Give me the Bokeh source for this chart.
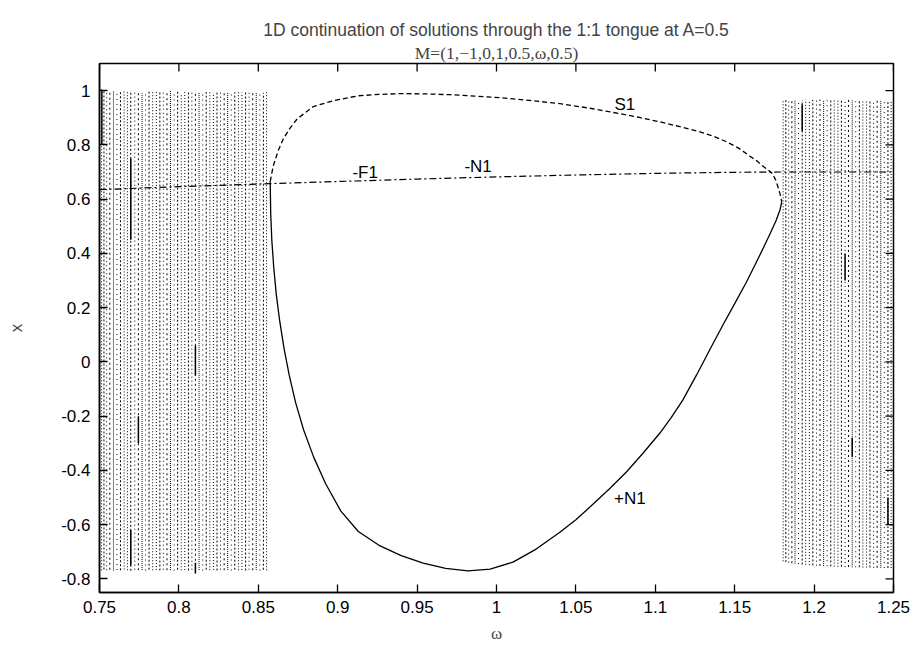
from bokeh.plotting import figure
from bokeh.models import FixedTicker, Title, NumeralTickFormatter, ColumnDataSource
from bokeh.core.properties import value
from bokeh.embed import file_html
from bokeh.resources import INLINE

# ---------------- data ----------------
title_main = "1D continuation of solutions through the 1:1 tongue at A=0.5"
title_sub = "M=(1,\u22121,0,1,0.5,\u03c9,0.5)"
x_label = "\u03c9"
y_label = "x"

x_ticks = [0.75, 0.8, 0.85, 0.9, 0.95, 1.0, 1.05, 1.1, 1.15, 1.2, 1.25]
y_ticks = [-0.8, -0.6, -0.4, -0.2, 0.0, 0.2, 0.4, 0.6, 0.8, 1.0]

# quasi-periodic clouds (columns of iterates) left of the tongue
omega_left = [0.7512, 0.7528, 0.7545, 0.7565, 0.7588, 0.7610, 0.7632, 0.7655, 0.7676, 0.7697,
              0.7722, 0.7745, 0.7768, 0.7790, 0.7812, 0.7835, 0.7858, 0.7880, 0.7902, 0.7925,
              0.7947, 0.7970, 0.7992, 0.8015, 0.8037, 0.8060, 0.8082, 0.8104, 0.8127, 0.8150,
              0.8172, 0.8195, 0.8217, 0.8240, 0.8262, 0.8285, 0.8307, 0.8330, 0.8352, 0.8375,
              0.8397, 0.8420, 0.8442, 0.8465, 0.8487, 0.8510, 0.8532, 0.8552]
left_top = [1.005, 1.003, 1.0, 1.0, 0.998, 1.0, 0.995, 1.0, 0.998, 1.0,
            0.997, 1.0, 0.99, 0.995, 0.998, 1.0, 0.996, 1.0, 0.993, 0.997,
            1.0, 0.995, 0.998, 0.99, 0.997, 0.995, 0.998, 1.0, 0.993, 0.997,
            0.995, 0.998, 0.992, 0.996, 0.995, 0.998, 0.993, 0.996, 0.994, 0.997,
            0.993, 0.995, 0.992, 0.996, 0.993, 0.995, 0.992, 0.994]
left_bottom = [-0.768, -0.765, -0.768, -0.766, -0.769, -0.767, -0.768, -0.765, -0.768, -0.77,
               -0.766, -0.768, -0.767, -0.769, -0.766, -0.768, -0.767, -0.769, -0.766, -0.768,
               -0.767, -0.769, -0.766, -0.768, -0.767, -0.769, -0.766, -0.77, -0.767, -0.769,
               -0.766, -0.768, -0.767, -0.769, -0.766, -0.768, -0.767, -0.769, -0.766, -0.768,
               -0.767, -0.769, -0.766, -0.768, -0.767, -0.769, -0.766, -0.768]

# clouds right of the tongue
omega_right = [1.1805, 1.1822, 1.1840, 1.1860, 1.1880, 1.1902, 1.1925, 1.1947, 1.1970, 1.1992,
               1.2015, 1.2037, 1.2060, 1.2082, 1.2105, 1.2127, 1.2150, 1.2172, 1.2195, 1.2217,
               1.2240, 1.2262, 1.2285, 1.2307, 1.2330, 1.2352, 1.2375, 1.2397, 1.2420, 1.2442,
               1.2465, 1.2485]
right_top = [0.962, 0.965, 0.963, 0.966, 0.964, 0.966, 0.965, 0.967, 0.964, 0.966,
             0.965, 0.967, 0.964, 0.966, 0.965, 0.967, 0.964, 0.966, 0.965, 0.967,
             0.964, 0.966, 0.965, 0.967, 0.964, 0.966, 0.965, 0.967, 0.964, 0.966,
             0.965, 0.963]
right_bottom = [-0.735, -0.738, -0.740, -0.742, -0.744, -0.745, -0.747, -0.748, -0.749, -0.750,
                -0.751, -0.752, -0.752, -0.753, -0.754, -0.754, -0.755, -0.755, -0.756, -0.756,
                -0.757, -0.757, -0.757, -0.758, -0.758, -0.758, -0.759, -0.759, -0.759, -0.76,
                -0.76, -0.76]

# darker, near-solid pieces inside the clouds
dark_omega = [0.7515, 0.7697, 0.7697, 0.8104, 0.8104, 0.7745, 1.2195, 1.2240, 1.2465, 1.1925]
dark_lo = [0.80, 0.45, -0.75, -0.05, -0.78, -0.30, 0.30, -0.35, -0.60, 0.85]
dark_hi = [1.00, 0.75, -0.62, 0.06, -0.74, -0.20, 0.40, -0.28, -0.50, 0.95]

# S1 branch (dashed)
s1_omega = [0.8575, 0.8594, 0.8625, 0.8657, 0.8700, 0.8745, 0.8846, 0.8972, 0.9129, 0.9260,
            0.9393, 0.9550, 0.9708, 0.9865, 1.0022, 1.0210, 1.0399, 1.0590, 1.0777, 1.0900,
            1.1028, 1.1155, 1.1280, 1.1370, 1.1450, 1.1525, 1.1594, 1.1640, 1.1676, 1.1710,
            1.1739, 1.1760, 1.1777, 1.1790, 1.1796]
s1_x = [0.665, 0.722, 0.778, 0.822, 0.862, 0.896, 0.941, 0.963, 0.981, 0.986,
        0.989, 0.988, 0.985, 0.980, 0.974, 0.964, 0.952, 0.935, 0.915, 0.901,
        0.885, 0.867, 0.848, 0.831, 0.811, 0.788, 0.759, 0.741, 0.722, 0.708,
        0.693, 0.668, 0.637, 0.610, 0.589]

# +N1 branch (solid)
n1_omega = [0.8575, 0.8578, 0.8585, 0.8597, 0.8613, 0.8635, 0.8662, 0.8695, 0.8735, 0.8785,
            0.8848, 0.8925, 0.9020, 0.9130, 0.9260, 0.9400, 0.9538, 0.9680, 0.9820, 0.9960,
            1.0104, 1.0250, 1.0399, 1.0500, 1.0607, 1.0715, 1.0821, 1.0925, 1.1028, 1.1100,
            1.1173, 1.1260, 1.1343, 1.1425, 1.1500, 1.1570, 1.1630, 1.1680, 1.1725, 1.1760,
            1.1785, 1.1796]
n1_x = [0.665, 0.55, 0.45, 0.35, 0.25, 0.15, 0.05, -0.05, -0.15, -0.25,
        -0.35, -0.45, -0.55, -0.625, -0.676, -0.714, -0.742, -0.761, -0.770, -0.764,
        -0.738, -0.690, -0.628, -0.582, -0.525, -0.466, -0.404, -0.335, -0.263, -0.205,
        -0.141, -0.048, 0.045, 0.135, 0.215, 0.290, 0.360, 0.420, 0.475, 0.520,
        0.560, 0.589]

# -F1 / -N1 branch (dash-dot)
dd_omega = [0.75, 0.80, 0.857, 0.90, 0.95, 1.00, 1.05, 1.10, 1.15, 1.18, 1.25]
dd_x = [0.635, 0.646, 0.657, 0.665, 0.674, 0.682, 0.689, 0.695, 0.699, 0.700, 0.700]

# branch labels
lab_text = ["S1", "-F1", "-N1", "+N1"]
lab_omega = [1.0808, 0.9173, 0.9884, 1.084]
lab_x = [0.948, 0.700, 0.722, -0.504]

# ---------------- figure ----------------
SANS = "Liberation Sans"
SERIF = "Liberation Serif"
FS = "17px"
TFS = "17.5px"
X_RANGE = (0.75, 1.25)
Y_RANGE = (-0.85, 1.1)
W, H = 914, 649
BL, BR, BT, BB = 99, 21, 63, 57

p = figure(width=W, height=H, x_range=X_RANGE, y_range=Y_RANGE,
           output_backend="svg", toolbar_location=None,
           min_border_left=BL, min_border_right=BR, min_border_top=BT, min_border_bottom=BB)
p.background_fill_color = "white"
p.border_fill_color = "white"
p.outline_line_color = "black"
p.outline_line_width = 1.5
p.xgrid.visible = False
p.ygrid.visible = False

for ax, ticks in ((p.xaxis[0], x_ticks), (p.yaxis[0], y_ticks)):
    ax.ticker = FixedTicker(ticks=ticks)
    ax.minor_tick_line_color = None
    ax.major_tick_in = 8
    ax.major_tick_out = 0
    ax.major_tick_line_color = "black"
    ax.major_tick_line_width = 1.3
    ax.axis_line_color = "black"
    ax.axis_line_width = 1.5
    ax.formatter = NumeralTickFormatter(format="0.[00]")
    ax.major_label_text_font = SANS
    ax.major_label_text_font_size = FS
    ax.major_label_text_color = "black"
    ax.axis_label_text_font_style = "normal"
    ax.axis_label_text_font_size = FS

p.xaxis[0].major_label_standoff = 8
p.yaxis[0].major_label_standoff = 9
p.xaxis[0].axis_label = x_label
p.xaxis[0].axis_label_text_font = SERIF
p.xaxis[0].axis_label_standoff = 8
p.yaxis[0].axis_label = y_label
p.yaxis[0].axis_label_text_font = SANS
p.yaxis[0].axis_label_standoff = 32

# two-line title
p.title.text = title_main
p.title.text_font = SANS
p.title.text_font_size = TFS
p.title.text_font_style = "normal"
p.title.align = "center"
p.title.standoff = 0
sub = Title(text=title_sub, text_font=SERIF, text_font_size=TFS, text_font_style="normal",
            align="center", standoff=2)
p.add_layout(sub, "above")

# mirrored inward tick marks on top and right edges (8 px; the part outside the frame is clipped)
dx_px = (X_RANGE[1] - X_RANGE[0]) / (W - BL - BR)
dy_px = (Y_RANGE[1] - Y_RANGE[0]) / (H - BT - BB)
p.multi_line(xs=[[t, t] for t in x_ticks],
             ys=[[Y_RANGE[1] + 3 * dy_px, Y_RANGE[1] - 8 * dy_px] for t in x_ticks],
             line_color="black", line_width=1.3)
p.multi_line(xs=[[X_RANGE[1] + 3 * dx_px, X_RANGE[1] - 8 * dx_px] for t in y_ticks],
             ys=[[t, t] for t in y_ticks],
             line_color="black", line_width=1.3)

# cloud columns, grouped by dot pattern
patterns = ["1 2", "2 2", "1 3", "2 3", "1 1", "1 4", "2 2", "1 2"]
groups = {pt: {"x": [], "y0": [], "y1": []} for pt in set(patterns)}
cols = list(zip(omega_left, left_bottom, left_top)) + list(zip(omega_right, right_bottom, right_top))
for i, (w, lo, hi) in enumerate(cols):
    g = groups[patterns[i % len(patterns)]]
    g["x"].append(w)
    g["y0"].append(lo)
    g["y1"].append(hi)
for pt, g in groups.items():
    src = ColumnDataSource(g)
    p.segment(x0="x", y0="y0", x1="x", y1="y1", source=src,
              line_color="black", line_width=1, line_dash=pt)

p.segment(x0=dark_omega, y0=dark_lo, x1=dark_omega, y1=dark_hi,
          line_color="black", line_width=1.5)

# branches
p.line(n1_omega, n1_x, line_color="black", line_width=1.3)
p.line(s1_omega, s1_x, line_color="black", line_width=1.3, line_dash="5 3")
p.line(dd_omega, dd_x, line_color="black", line_width=1.2, line_dash="7 3 2 3")

p.text(x=lab_omega, y=lab_x, text=lab_text, text_font=value(SANS), text_font_size=FS,
       text_align="center", text_baseline="middle", text_color="black")

open("out.html", "w").write(file_html(p, INLINE))
